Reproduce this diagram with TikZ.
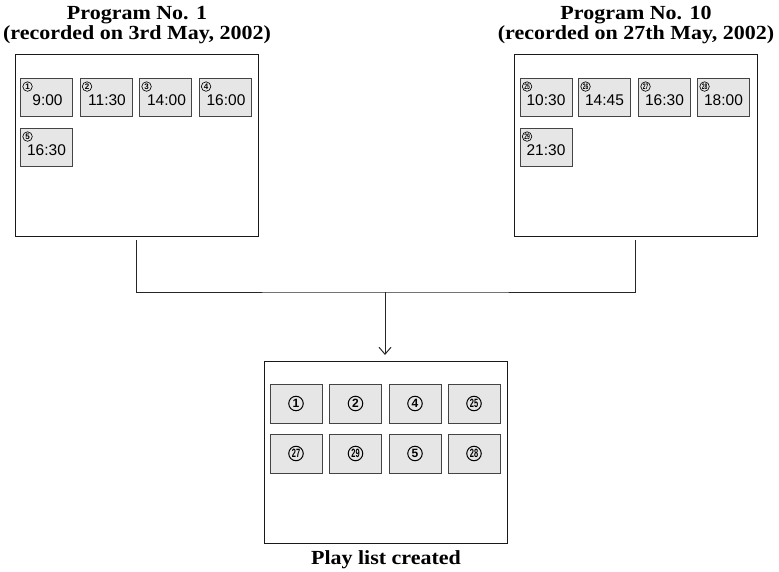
\documentclass[tikz,border=0pt]{standalone}
\usepackage{fontspec}
\usepackage{graphicx}
\setmainfont{Liberation Serif}
\newfontfamily\titlefont[FakeStretch=1.1]{Liberation Serif}
\newfontfamily\thumbfont{Liberation Sans}
\newcommand\twodig[1]{\scalebox{0.62}[1]{#1}}
\usetikzlibrary{arrows.meta}
\definecolor{thumbfill}{HTML}{E6E6E6}
\definecolor{thumbline}{HTML}{444444}
\tikzset{
  screen/.style={draw=black!90, line width=1pt, minimum width=243pt, minimum height=182pt, inner sep=0pt},
  thumb/.style={draw=thumbline, fill=thumbfill, line width=0.9pt, minimum width=52pt, minimum height=38pt, inner sep=0pt},
  timetext/.style={font=\thumbfont\fontsize{15.5pt}{15pt}\selectfont, inner sep=0pt},
  smallcirc/.style={circle, draw=black, line width=0.65pt, minimum size=9.5pt, inner sep=0pt,
    font=\thumbfont\bfseries\fontsize{8pt}{8pt}\selectfont},
  bigcirc/.style={circle, draw=black, line width=1pt, minimum size=14.5pt, inner sep=0pt,
    font=\thumbfont\bfseries\fontsize{12pt}{12pt}\selectfont},
  title/.style={font=\titlefont\bfseries\fontsize{20pt}{20pt}\selectfont, align=center, inner sep=0pt},
  conn/.style={line width=1pt, draw=black!85}
}
\begin{document}
\begin{tikzpicture}[x=1pt,y=-1pt]
\useasboundingbox (0,0) rectangle (779,572);
% titles
\node[title, anchor=base] (t1) at (137,20) {Program No. 1};
\node[title, anchor=base] (t1b) at (137,40) {(recorded on 3rd May, 2002)};
\node[title, anchor=base] (t2) at (636,20) {Program No. 10};
\node[title, anchor=base] (t2b) at (636,40) {(recorded on 27th May, 2002)};
% screens
\node[screen] (L) at (136.5,146) {};
\node[screen] (R) at (635.5,146) {};
\node[screen] (P) at (386,452.5) {};
% left thumbnails
\foreach \x/\n/\c/\t in {46.5/l1/1/9:00, 106/l2/2/11:30, 165.5/l3/3/14:00, 225/l4/4/16:00} {
  \node[thumb] (\n) at (\x,97) {};
  \node[smallcirc] (\n c) at ([xshift=7.5pt,yshift=-9pt]\n.north west) {\c};
  \node[timetext] (\n t) at ([xshift=1pt,yshift=-3pt]\n.center) {\t};
}
\node[thumb] (l5) at (46.5,147) {};
\node[smallcirc] (l5c) at ([xshift=7.5pt,yshift=-9pt]l5.north west) {5};
\node[timetext] (l5t) at ([yshift=-3pt]l5.center) {16:30};
% right thumbnails
\foreach \x/\n/\c/\t in {546/r1/25/10:30, 604.5/r2/26/14:45, 664.5/r3/27/16:30, 723.5/r4/28/18:00} {
  \node[thumb] (\n) at (\x,97) {};
  \node[smallcirc] (\n c) at ([xshift=7.5pt,yshift=-9pt]\n.north west) {\twodig{\c}};
  \node[timetext] (\n t) at ([yshift=-3pt]\n.center) {\t};
}
\node[thumb] (r5) at (546,147) {};
\node[smallcirc] (r5c) at ([xshift=7.5pt,yshift=-9pt]r5.north west) {\twodig{29}};
\node[timetext] (r5t) at ([yshift=-3pt]r5.center) {21:30};
% play list thumbnails
\foreach \x/\n/\c in {296/p1/1, 355.5/p2/2, 415/p3/4} {
  \node[thumb, minimum height=39pt] (\n) at (\x,403.5) {};
  \node[bigcirc] (\n c) at (\n.center) {\c};
}
\node[thumb, minimum height=39pt] (p4) at (474,403.5) {};
\node[bigcirc] (p4c) at (p4.center) {\twodig{25}};
\foreach \x/\n/\c in {296/p5/27, 355.5/p6/29, 474/p8/28} {
  \node[thumb, minimum height=39pt] (\n) at (\x,453.5) {};
  \node[bigcirc] (\n c) at (\n.center) {\twodig{\c}};
}
\node[thumb, minimum height=39pt] (p7) at (415,453.5) {};
\node[bigcirc] (p7c) at (p7.center) {5};
\node[title, anchor=base] (t3) at (386,564) {Play list created};
% connectors
\coordinate (j) at (385,292);
\draw[conn] ([yshift=-3pt]L.south) |- (j) -| ([yshift=-3pt]R.south);
\draw[conn, -{Straight Barb[length=7pt,width=12pt]}] (j) -- ([yshift=6pt]P.north -| j);
\end{tikzpicture}
\end{document}
